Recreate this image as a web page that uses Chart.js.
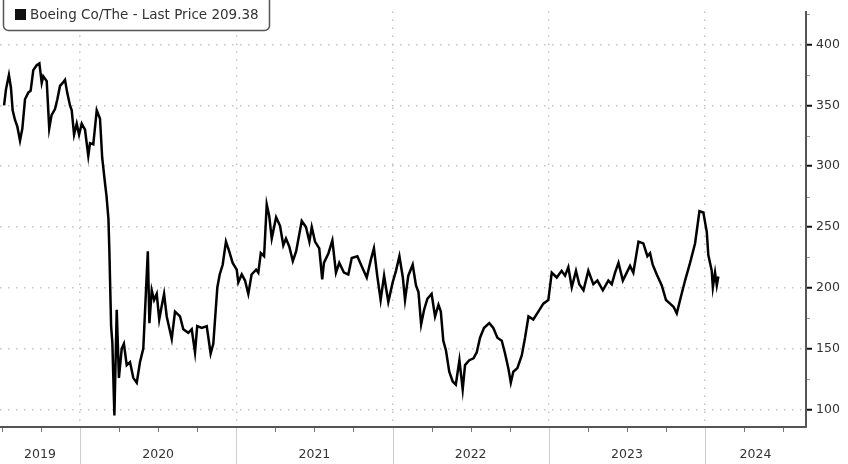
<!DOCTYPE html>
<html>
<head>
<meta charset="utf-8">
<script src="https://cdn.jsdelivr.net/npm/chart.js@4.4.1/dist/chart.umd.min.js"></script>
<style>
  html, body { margin: 0; padding: 0; background: #fff; }
  #wrap { width: 848px; height: 464px; }
</style>
</head>
<body>
<div id="wrap"><canvas id="priceChart" width="848" height="464"></canvas></div>
<script>
// Boeing Co/The - last price (x = decimal year)
const dates = [
  2019.514, 2019.526, 2019.545, 2019.558, 2019.569, 2019.584, 2019.599, 2019.616, 2019.631, 2019.648,
  2019.669, 2019.684, 2019.701, 2019.723, 2019.740, 2019.755, 2019.765, 2019.787, 2019.803, 2019.818,
  2019.840, 2019.855, 2019.872, 2019.889, 2019.904, 2019.918, 2019.936, 2019.947, 2019.962, 2019.979,
  2019.994, 2020.011, 2020.032, 2020.053, 2020.064, 2020.085, 2020.107, 2020.128, 2020.142, 2020.160,
  2020.170, 2020.182, 2020.188, 2020.199, 2020.207, 2020.220, 2020.235, 2020.249, 2020.267, 2020.281,
  2020.299, 2020.320, 2020.341, 2020.363, 2020.384, 2020.405, 2020.434, 2020.444, 2020.459, 2020.474,
  2020.491, 2020.507, 2020.522, 2020.538, 2020.555, 2020.587, 2020.608, 2020.640, 2020.661, 2020.693,
  2020.715, 2020.736, 2020.750, 2020.779, 2020.811, 2020.836, 2020.853, 2020.870, 2020.879, 2020.894,
  2020.913, 2020.934, 2020.955, 2020.977, 2021.003, 2021.013, 2021.035, 2021.056, 2021.077, 2021.098,
  2021.127, 2021.141, 2021.157, 2021.178, 2021.195, 2021.211, 2021.227, 2021.255, 2021.280, 2021.301,
  2021.318, 2021.339, 2021.362, 2021.383, 2021.419, 2021.446, 2021.468, 2021.483, 2021.504, 2021.531,
  2021.550, 2021.561, 2021.590, 2021.615, 2021.638, 2021.659, 2021.689, 2021.717, 2021.739, 2021.775,
  2021.802, 2021.835, 2021.861, 2021.881, 2021.902, 2021.924, 2021.946, 2021.973, 2022.001, 2022.022,
  2022.044, 2022.066, 2022.080, 2022.101, 2022.129, 2022.150, 2022.166, 2022.183, 2022.202, 2022.223,
  2022.250, 2022.272, 2022.294, 2022.309, 2022.325, 2022.342, 2022.363, 2022.385, 2022.405, 2022.428,
  2022.449, 2022.464, 2022.491, 2022.518, 2022.539, 2022.560, 2022.585, 2022.619, 2022.645, 2022.671,
  2022.699, 2022.720, 2022.741, 2022.757, 2022.773, 2022.799, 2022.827, 2022.848, 2022.870, 2022.901,
  2022.933, 2022.965, 2022.997, 2023.019, 2023.051, 2023.082, 2023.104, 2023.125, 2023.147, 2023.174,
  2023.195, 2023.222, 2023.253, 2023.285, 2023.311, 2023.346, 2023.381, 2023.403, 2023.424, 2023.446,
  2023.474, 2023.499, 2023.520, 2023.541, 2023.574, 2023.605, 2023.631, 2023.648, 2023.665, 2023.691,
  2023.723, 2023.750, 2023.776, 2023.798, 2023.819, 2023.845, 2023.872, 2023.904, 2023.936, 2023.964,
  2023.989, 2024.011, 2024.021, 2024.043, 2024.050, 2024.064, 2024.075, 2024.085
];
const prices = [
  350, 363, 375, 364.5, 346, 338, 332.5, 321, 331, 355,
  360.5, 362, 379, 383, 384.5, 368.5, 374, 370, 331, 342,
  347, 355, 366, 368.5, 371, 360.5, 350, 346, 326, 335,
  326, 335, 330, 308.5, 319, 318, 346, 339, 307, 286,
  275, 256.5, 230, 168.5, 155, 95, 182, 126, 150, 154,
  136.5, 139, 126, 122, 139, 150, 230, 171, 198, 190,
  195, 174, 184.5, 195, 176.5, 158, 180.5, 176.5, 166, 163,
  166, 147, 168.5, 167, 168.5, 146, 154, 184.5, 200.5, 211,
  219, 238, 230, 220.5, 215, 204.5, 211, 206, 195, 211,
  215, 212.5, 228.5, 226, 268.5, 259, 240.5, 258, 251, 235,
  240.5, 234, 222, 230, 255, 250, 238, 250, 238, 232.5,
  207, 220.5, 228.5, 239, 212.5, 220.5, 212.5, 211, 224.5, 226,
  218, 208.5, 223, 232.5, 210, 190, 210, 188.5, 204.5, 214,
  226, 208.5, 190, 210, 219, 202, 196.5, 170, 182, 191,
  195, 176.5, 186, 180.5, 156.5, 148.5, 131, 123, 120.5, 140.5,
  116.5, 136.5, 140.5, 142, 147, 159, 167, 171, 167, 159,
  156.5, 146, 134, 122, 131, 134, 144.5, 159, 176.5, 174,
  180.5, 187, 190, 212.5, 208.5, 214, 210, 217, 200.5, 214,
  203, 198, 214, 203, 206, 198, 206, 203, 212.5, 220.5,
  206, 212.5, 218, 212.5, 238, 236.5, 226, 228.5, 219, 211,
  202, 190, 187, 184.5, 179, 192.5, 206, 220.5, 236.5, 263,
  262, 246, 227, 214, 200.5, 212.5, 202, 209.38
];
const yearLabels = ['2019', '2020', '2021', '2022', '2023', '2024'];
const priceTicks = [100, 150, 200, 250, 300, 350, 400];
const legendText = 'Boeing Co/The - Last Price 209.38';

const X_MIN = 2019.488, X_MAX = 2024.646;
const Y_MIN = 85.6, Y_MAX = 427.2;
const FONT = '12.5px "DejaVu Sans", sans-serif';

// separators, quarter ticks and centred year names under the x axis
const bottomAxisDecor = {
  id: 'bottomAxisDecor',
  afterDraw(chart) {
    const ctx = chart.ctx, xs = chart.scales.x, area = chart.chartArea;
    ctx.save();
    ctx.lineWidth = 1;
    ctx.strokeStyle = '#cdcdcd';
    yearLabels.slice(1).forEach(label => {
      const px = Math.round(xs.getPixelForValue(Number(label))) + 0.5;
      ctx.beginPath(); ctx.moveTo(px, area.bottom + 1); ctx.lineTo(px, chart.height); ctx.stroke();
    });
    ctx.strokeStyle = '#777';
    for (let q = Math.ceil(X_MIN * 4); q <= X_MAX * 4; q++) {
      if (q % 4 === 0) continue;
      const px = Math.round(xs.getPixelForValue(q / 4)) + 0.5;
      ctx.beginPath(); ctx.moveTo(px, area.bottom + 1); ctx.lineTo(px, area.bottom + 5); ctx.stroke();
    }
    ctx.fillStyle = '#333';
    ctx.font = FONT;
    ctx.textAlign = 'center';
    ctx.textBaseline = 'middle';
    yearLabels.forEach(label => {
      const yr = Number(label);
      const a = Math.max(yr, X_MIN), b = Math.min(yr + 1, X_MAX);
      ctx.fillText(label, (xs.getPixelForValue(a) + xs.getPixelForValue(b)) / 2, 455);
    });

    // minor ticks on the price axis
    const ys = chart.scales.y;
    ctx.strokeStyle = '#999';
    for (let v = 125; v < Y_MAX; v += 50) {
      const py = Math.round(ys.getPixelForValue(v)) + 0.5;
      ctx.beginPath(); ctx.moveTo(area.right + 1, py); ctx.lineTo(area.right + 4, py); ctx.stroke();
    }
    ctx.restore();
  }
};

// the boxed legend at top left
const legendBox = {
  id: 'legendBox',
  afterDraw(chart) {
    const ctx = chart.ctx;
    ctx.save();
    ctx.beginPath();
    ctx.roundRect(3.5, -10, 266, 40.5, 5);
    ctx.fillStyle = '#fff';
    ctx.fill();
    ctx.lineWidth = 1.5;
    ctx.strokeStyle = '#555';
    ctx.stroke();
    ctx.fillStyle = '#111';
    ctx.fillRect(15, 9, 11, 11);
    ctx.fillStyle = '#333';
    ctx.font = '13.5px "DejaVu Sans", sans-serif';
    ctx.textBaseline = 'middle';
    ctx.fillText(legendText, 30, 15);
    ctx.restore();
  }
};

new Chart(document.getElementById('priceChart'), {
  type: 'line',
  data: {
    datasets: [{
      data: dates.map((d, i) => ({ x: d, y: prices[i] })),
      borderColor: '#000',
      borderWidth: 2.5,
      pointRadius: 0,
      tension: 0,
      fill: false
    }]
  },
  options: {
    responsive: false,
    animation: false,
    events: [],
    layout: { padding: 0 },
    plugins: { legend: { display: false }, tooltip: { enabled: false } },
    scales: {
      x: {
        type: 'linear', min: X_MIN, max: X_MAX,
        afterBuildTicks: s => { s.ticks = yearLabels.slice(1).map(v => ({ value: Number(v) })); },
        afterFit: s => { s.height = 37; },
        ticks: { display: false },
        grid: { color: '#c4c4c4', lineWidth: 1.5, drawTicks: false },
        border: { color: '#555', width: 2, dash: [1.5, 6.5] }
      },
      y: {
        position: 'right', min: Y_MIN, max: Y_MAX,
        afterBuildTicks: s => { s.ticks = priceTicks.map(v => ({ value: v })); },
        afterFit: s => { s.width = 42; },
        ticks: { color: '#333', font: { family: 'DejaVu Sans', size: 12.5 }, padding: 4 },
        grid: { color: '#c4c4c4', lineWidth: 1.5, tickColor: '#111', tickLength: 6, tickWidth: 2, tickBorderDash: [] },
        border: { color: '#555', width: 2, dash: [1.5, 6.5] }
      }
    }
  },
  plugins: [bottomAxisDecor, legendBox]
});
</script>
</body>
</html>
